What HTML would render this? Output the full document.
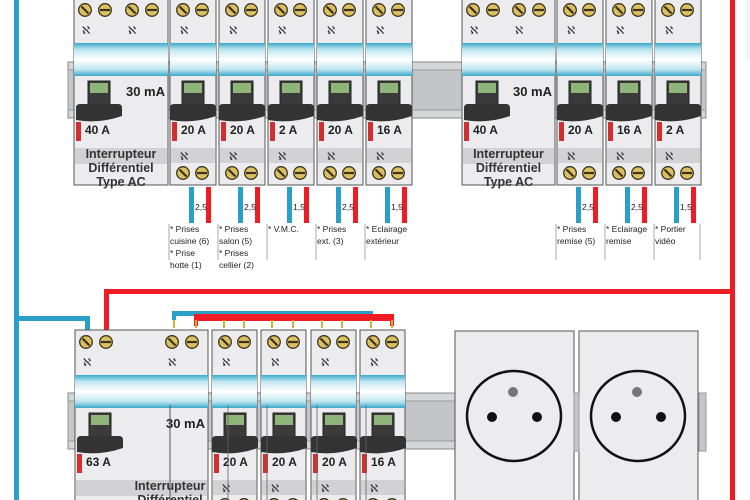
<!DOCTYPE html>
<html><head><meta charset="utf-8"><style>
html,body{margin:0;padding:0;background:#fff;width:750px;height:500px;overflow:hidden}
svg{display:block;font-family:"Liberation Sans",sans-serif}
</style></head><body>
<svg id="s" width="750" height="500" viewBox="0 0 750 500" xmlns="http://www.w3.org/2000/svg">
<defs>
<linearGradient id="band" x1="0" y1="0" x2="0" y2="1">
<stop offset="0" stop-color="#3aa9c9"/><stop offset="0.2" stop-color="#bfe6f0"/><stop offset="0.5" stop-color="#ffffff"/><stop offset="0.8" stop-color="#bfe6f0"/><stop offset="1" stop-color="#3aa9c9"/>
</linearGradient>
</defs>
<g id="g"></g>
</svg>
<script>
var out='';
function r(x,y,w,h,f,s,extra){out+='<rect x="'+x+'" y="'+y+'" width="'+w+'" height="'+h+'" fill="'+f+'"'+(s?' stroke="'+s+'"':'')+(extra||'')+'/>';}
function t(x,y,txt,sz,w,anchor,col){out+='<text x="'+x+'" y="'+y+'" font-size="'+sz+'" font-weight="'+(w||'normal')+'" fill="'+(col||'#222')+'"'+(anchor?' text-anchor="'+anchor+'"':'')+'>'+txt+'</text>';}
function screw(cx,cy,slash){out+='<circle cx="'+cx+'" cy="'+cy+'" r="6.3" fill="#dcc060" stroke="#3a3320" stroke-width="1.3"/>';
 if(slash)out+='<line x1="'+(cx-3.5)+'" y1="'+(cy-3.5)+'" x2="'+(cx+3.5)+'" y2="'+(cy+3.5)+'" stroke="#3a3320" stroke-width="2.2"/>';
 else out+='<line x1="'+(cx-5)+'" y1="'+cy+'" x2="'+(cx+5)+'" y2="'+cy+'" stroke="#3a3320" stroke-width="2.2"/>';}
function nm(x,y){t(x,y,'ℵ',11,'normal',null,'#333');}
function rail(x1,x2,y){r(x1,y,x2-x1,56,'#d4d6d8','#888');r(x1,y+8,x2-x1,40,'#c3c6c9','#999');}
function toggle(x,y){
 r(x+12,y+83,22,30,'#3a3a3a','#222');r(x+14,y+85,18,10,'#8fb57a');
 out+='<path d="M'+x+' '+(y+110)+' q0 -4 4 -4 h38 q4 0 4 4 v8 q-23 8 -46 4 z" fill="#333"/>';}
function breaker(x,y,w,rating){
 r(x,y,w,187,'#ececee','#555');
 screw(x+13,y+12,1);screw(x+32,y+12,0);nm(x+10,y+36);
 r(x,y+45,w,33,'url(#band)');
 toggle(x,y);
 r(x+2,y+124,5,19,'#d03030');
 t(x+11,y+136,rating,12,'bold');
 r(x+1,y+150,w-2,15,'#d2d2d4');nm(x+10,y+162);
 screw(x+13,y+175,1);screw(x+32,y+175,0);
}
function diff(x,y,w,rating,s2,typeAC){
 r(x,y,w,typeAC?187:175,'#ececee','#555');
 screw(x+11,y+12,1);screw(x+31,y+12,0);screw(x+w-36,y+12,1);screw(x+w-16,y+12,0);
 nm(x+8,y+36);nm(x+w-40,y+36);
 r(x,y+45,w,33,'url(#band)');
 toggle(x+2,y);
 r(x+2,y+124,5,19,'#d03030');
 t(x+11,y+136,rating,12,'bold');
 t(x+w-3,y+98,'30 mA',13,'bold','end');
 r(x+1,y+150,w-2,16,'#d2d2d4');
 var cx=typeAC?x+w/2:x+w-38;
 t(cx,y+160,'Interrupteur',12.5,'bold','middle','#333');
 t(cx,y+174,'Différentiel',12.5,'bold','middle','#333');
 if(typeAC)t(cx,y+188,'Type AC',12.5,'bold','middle','#333');
}
function wires(x,sec,lines){
 r(x+19,187,5,36,'#2aa0c8');r(x+36,187,5,36,'#ee1c24');
 t(x+25,210,sec,8.5,'normal',null,'#222');
 out+='<line x1="'+(x-1)+'" y1="224" x2="'+(x-1)+'" y2="260" stroke="#aaa"/>';
 for(var i=0;i<lines.length;i++)t(x,232+i*12,lines[i],8.5,'normal',null,'#222');
}
r(14,0,5,500,'#2aa0c8');
r(14,316,76,5,'#2aa0c8');r(85,316,5,15,'#2aa0c8');
r(104,290,5,41,'#ee1c24');r(104,289,631,5,'#ee1c24');r(730,0,5,500,'#ee1c24');
r(746,0,4,60,'#eef4f8');
rail(68,706,62);
diff(74,-2,94,'40 A','',true);
var tb=[[170,'20 A'],[219,'20 A'],[268,'2 A'],[317,'20 A'],[366,'16 A'],[557,'20 A'],[606,'16 A'],[655,'2 A']];
tb.forEach(function(b){breaker(b[0],-2,46,b[1]);});
diff(462,-2,93,'40 A','',true);
wires(170,'2,5',['* Prises','cuisine (6)','* Prise','hotte (1)']);
wires(219,'2,5',['* Prises','salon (5)','* Prises','cellier (2)']);
wires(268,'1,5',['* V.M.C.']);
wires(317,'2,5',['* Prises','ext. (3)']);
wires(366,'1,5',['* Eclairage','extérieur']);
wires(557,'2,5',['* Prises','remise (5)']);
wires(606,'2,5',['* Eclairage','remise']);
wires(655,'1,5',['* Portier','vidéo']);
out+='<line x1="700" y1="224" x2="700" y2="260" stroke="#aaa"/>';
rail(68,706,393);
diff(75,330,133,'63 A');
var bb=[[212,'20 A'],[261,'20 A'],[311,'20 A'],[360,'16 A']];
bb.forEach(function(b){breaker(b[0],330,45,b[1]);});
out+='<line x1="170" y1="405" x2="170" y2="500" stroke="#555"/>';
[228,267,317,366].forEach(function(x){out+='<line x1="'+x+'" y1="405" x2="'+x+'" y2="500" stroke="#666" stroke-width="0.8"/>';});
r(172,311,201,5,'#2aa0c8');r(172,311,4,9,'#2aa0c8');
r(194,314,200,7,'#ee1c24');r(194,314,4,12,'#ee1c24');r(390,314,4,12,'#ee1c24');
[174,196,224,244,272,293,322,342,371,392].forEach(function(x){r(x-1,320,2,8,'#d8b040');});
[[455,514],[579,638]].forEach(function(s){
 r(s[0],331,119,175,'#ececee','#555');
 out+='<ellipse cx="'+s[1]+'" cy="416" rx="47" ry="45" fill="none" stroke="#111" stroke-width="2.5"/>';
 out+='<ellipse cx="'+(s[1]-1)+'" cy="392" rx="5" ry="5" fill="#777"/>';
 out+='<circle cx="'+(s[1]-22)+'" cy="417" r="5" fill="#111"/><circle cx="'+(s[1]+23)+'" cy="417" r="5" fill="#111"/>';
});
r(574,393,5,58,'#c3c6c9','#999');r(699,393,7,58,'#c3c6c9','#999');
document.getElementById('g').innerHTML=out;
</script>
</body></html>
